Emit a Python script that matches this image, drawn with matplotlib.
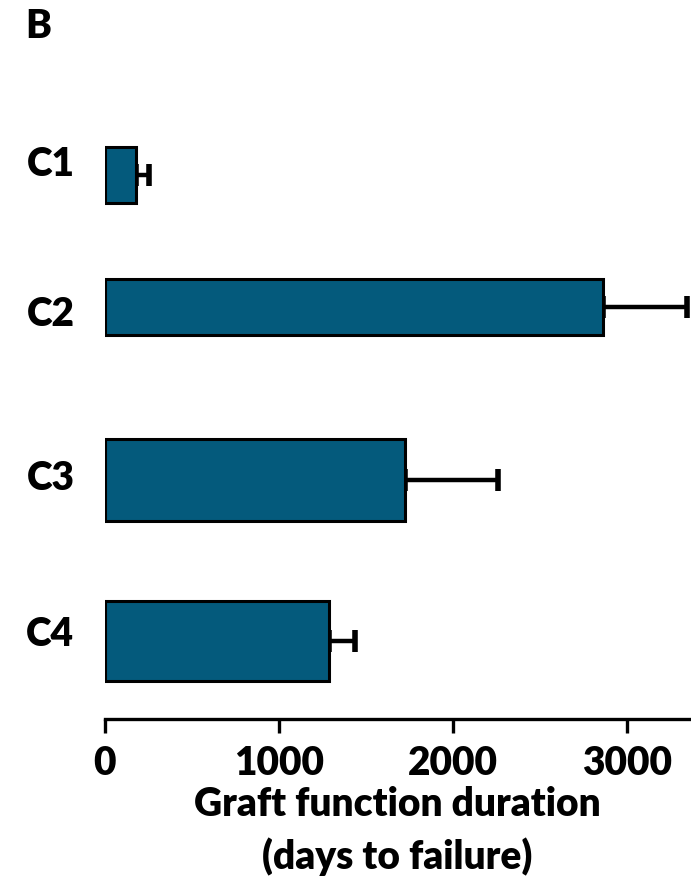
import numpy as np
import matplotlib.pyplot as plt

plt.rcParams.update(
    {
        "font.family": ["Lato", "DejaVu Sans"],
        "font.weight": "heavy",
        "axes.labelweight": "heavy",
        "font.size": 28,
    }
)

groups = ["C1", "C2", "C3", "C4"]
duration = [176, 2860, 1723, 1287]
duration_err = [77, 483, 534, 149]
xticks = [0, 1000, 2000, 3000]

# row layout (axis units run top to bottom)
bar_y = [176, 308, 481, 642]
bar_h = [56, 56, 82, 80]
label_y = [161, 311, 475, 631]

bar_color = "#045a7c"

fig = plt.figure(figsize=(6.91, 8.78), dpi=100)
ax = fig.add_axes([105 / 691, 158 / 878, 585 / 691, 590 / 878])

ax.barh(bar_y, duration, height=bar_h, color=bar_color,
        edgecolor="black", linewidth=2.2, zorder=2)
ax.errorbar(duration, bar_y, xerr=[np.zeros(len(duration)), duration_err],
            fmt="none", ecolor="black", elinewidth=3.2, capsize=8,
            capthick=4, zorder=1, clip_on=False)

ax.set_xlim(0, 3360)
ax.set_ylim(720, 130)
ax.set_xticks(xticks)
ax.set_xticklabels([str(t) for t in xticks])
ax.set_yticks(label_y)
ax.set_yticklabels(groups, fontsize=28)

for side in ["top", "right", "left"]:
    ax.spines[side].set_visible(False)
ax.spines["bottom"].set_linewidth(2.4)
ax.tick_params(axis="x", length=10, width=2.4, pad=8, labelsize=28)
ax.tick_params(axis="y", length=0, pad=22)

ax.set_xlabel("Graft function duration\n(days to failure)", fontsize=28,
              fontweight="heavy", labelpad=3, linespacing=1.45)

fig.text(25 / 691, 1 - 38 / 878, "B", fontsize=28)

fig.savefig("out.png", dpi=100)
